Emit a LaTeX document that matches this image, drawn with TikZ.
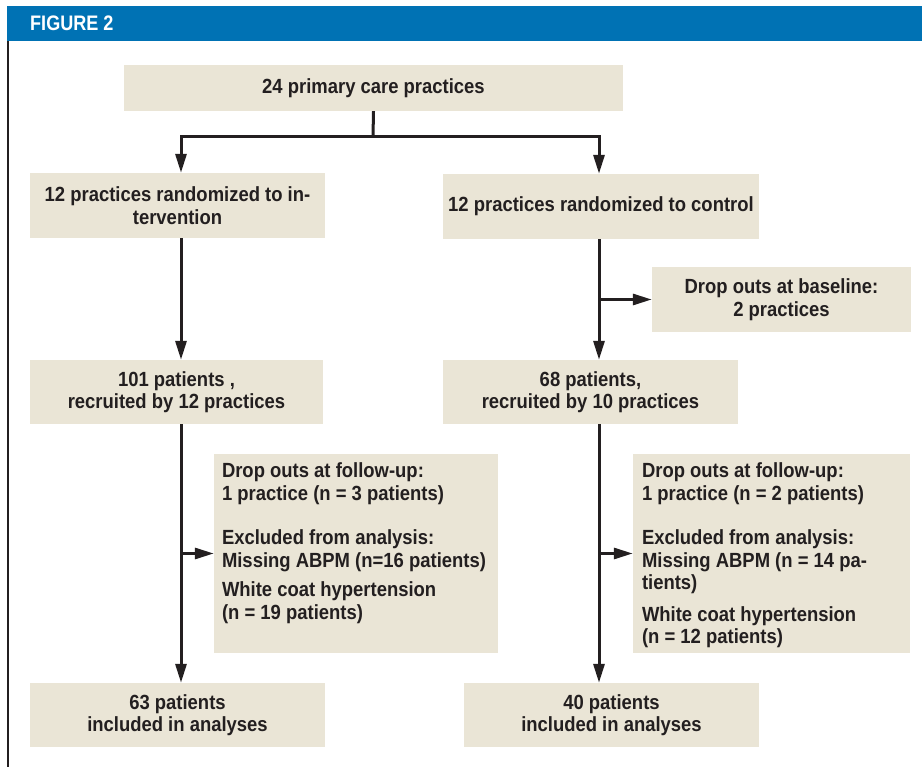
\documentclass[tikz,border=0pt]{standalone}
\usepackage{fontspec}
\newfontfamily\chartfont[FakeStretch=0.9]{Liberation Sans}
\newfontfamily\headfont[FakeStretch=0.86]{Liberation Sans}
\usetikzlibrary{arrows.meta,positioning}
\definecolor{figblue}{RGB}{0,114,180}
\definecolor{boxtan}{RGB}{234,229,214}
\definecolor{inkgray}{RGB}{35,31,32}

\begin{document}
\begin{tikzpicture}[x=1pt, y=-1pt, every node/.style={inner sep=0pt, text=inkgray},
    box/.style={fill=boxtan, align=center, font=\chartfont\bfseries\fontsize{20.5}{22.5}\selectfont},
    link/.style={draw=inkgray, line width=3pt},
    arr/.style={link, -{Triangle[length=19pt, width=11pt]}}]
    \useasboundingbox (0,0) rectangle (922,767);

    % Figure header and frame
    \fill[figblue] (7,6) rectangle (922,41);
    \node[anchor=west, text=white, font=\headfont\bfseries\fontsize{21}{21}\selectfont] (figlabel) at (30,23.5) {FIGURE 2};
    \draw[inkgray, line width=2pt] (8,41) -- (8,767);

    % Practices and randomization
    \node[box, minimum width=499pt, minimum height=46pt] (practices) at (373.5,88) {24 primary care practices};
    \node[box, minimum width=295pt, minimum height=65pt] (randint) at (177.5,205.5) {12 practices randomized to in-\\tervention};
    \node[box, minimum width=316pt, minimum height=65pt] (randctl) at (601,206.5) {12 practices randomized to control};
    \node[box, minimum width=259pt, minimum height=65pt] (dropbase) at (781.5,299.5) {Drop outs at baseline:\\2 practices};

    % Recruited patients
    \node[box, minimum width=293pt, minimum height=64pt] (patint) at (176.5,392) {101 patients ,\\recruited by 12 practices};
    \node[box, minimum width=295pt, minimum height=64pt] (patctl) at (590.5,392) {68 patients,\\recruited by 10 practices};

    % Follow-up losses, text set from the top left corner
    \node[box, minimum width=284pt, minimum height=199pt] (followint) at (356,553.5) {};
    \node[box, fill=none, align=left, below right=9pt and 8pt of followint.north west] (followinttext)
        {Drop outs at follow-up:\\1 practice (n = 3 patients)\\[22pt]Excluded from analysis:\\Missing ABPM (n=16 patients)\\[7pt]White coat hypertension\\(n = 19 patients)};
    \node[box, minimum width=277pt, minimum height=199pt] (followctl) at (771.5,553.5) {};
    \node[box, fill=none, align=left, below right=9pt and 9pt of followctl.north west] (followctltext)
        {Drop outs at follow-up:\\1 practice (n = 2 patients)\\[22pt]Excluded from analysis:\\Missing ABPM (n = 14 pa-\\tients)\\[9pt]White coat hypertension\\(n = 12 patients)};

    % Analysed patients
    \node[box, minimum width=295pt, minimum height=64pt] (finalint) at (177.5,715) {63 patients\\included in analyses};
    \node[box, minimum width=295pt, minimum height=64pt] (finalctl) at (611.5,715) {40 patients\\included in analyses};

    % Flow lines
    \coordinate (split) at (373,137);
    \coordinate (spineint) at (181,0);
    \coordinate (spinectl) at (599,0);
    \draw[link] (practices.south) -- (split);
    \draw[arr] (split) -| (randint.north -| spineint);
    \draw[arr] (split) -| (randctl.north -| spinectl);
    \draw[arr] (randint.south -| spineint) -- (patint.north -| spineint);
    \draw[arr] (randctl.south -| spinectl) -- (patctl.north -| spinectl);
    \draw[arr] (spinectl |- dropbase.west) -- (dropbase.west);
    \draw[arr] (patint.south -| spineint) -- (finalint.north -| spineint);
    \draw[arr] (patctl.south -| spinectl) -- (finalctl.north -| spinectl);
    \draw[arr] (spineint |- followint.west) -- (followint.west);
    \draw[arr] (spinectl |- followctl.west) -- (followctl.west);
\end{tikzpicture}
\end{document}
